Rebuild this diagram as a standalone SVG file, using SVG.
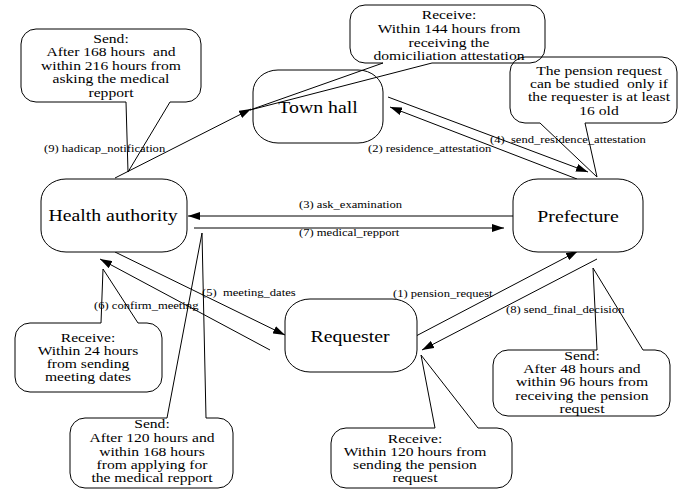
<svg xmlns="http://www.w3.org/2000/svg" width="678" height="490" viewBox="0 0 678 490">
<defs>
<marker id="ah" markerUnits="userSpaceOnUse" markerWidth="12" markerHeight="8" refX="12" refY="4" orient="auto">
<path d="M0,0 L12,4 L0,8 Z" fill="#000"/>
</marker>
<style>
.node{fill:#fff;stroke:#000;stroke-width:1}
.call{fill:none;stroke:#000;stroke-width:1}
.edge{fill:none;stroke:#000;stroke-width:1;marker-end:url(#ah)}
text{font-family:'Liberation Serif','Times New Roman',Times,'Tinos','Noto Serif','DejaVu Serif','FreeSerif',serif;fill:#000}
.nt{font-size:16.5px;text-anchor:middle}
.ct{font-size:13px;text-anchor:middle}
.lt{font-size:10.5px}
</style>
</defs>
<rect width="678" height="490" fill="#fff"/>

<g id="connectors">
<line class="edge" x1="115" y1="178" x2="251" y2="109"/>
<line class="edge" x1="513" y1="216" x2="188" y2="216"/>
<line class="edge" x1="194" y1="228" x2="504" y2="228"/>
<line class="edge" x1="388" y1="97" x2="588" y2="172"/>
<line class="edge" x1="577" y1="179" x2="390" y2="107"/>
<line class="edge" x1="115" y1="252" x2="285" y2="335"/>
<line class="edge" x1="270" y1="350" x2="100" y2="259"/>
<line class="edge" x1="416" y1="336" x2="578" y2="251"/>
<line class="edge" x1="597" y1="259" x2="422" y2="350"/>
<text class="lt" transform="translate(44,0) scale(1.2,1)" x="0" y="152">(9) hadicap_notification</text>
<text class="lt" transform="translate(368,0) scale(1.2,1)" x="0" y="152">(2) residence_attestation</text>
<text class="lt" transform="translate(490,0) scale(1.2,1)" x="0" y="143" xml:space="preserve">(4)  send_residence_attestation</text>
<text class="lt" transform="translate(299,0) scale(1.2,1)" x="0" y="208">(3) ask_examination</text>
<text class="lt" transform="translate(299,0) scale(1.2,1)" x="0" y="236">(7) medical_repport</text>
<text class="lt" transform="translate(202,0) scale(1.2,1)" x="0" y="296" xml:space="preserve">(5)  meeting_dates</text>
<text class="lt" transform="translate(94,0) scale(1.2,1)" x="0" y="309">(6) confirm_meeting</text>
<text class="lt" transform="translate(393,0) scale(1.2,1)" x="0" y="297">(1) pension_request</text>
<text class="lt" transform="translate(506,0) scale(1.2,1)" x="0" y="313">(8) send_final_decision</text>
</g>

<g id="town-hall">
<rect class="node" x="253" y="70" width="130" height="73" rx="25" ry="22"/>
<text class="nt" transform="translate(318,0) scale(1.2,1)" x="0" y="113">Town hall</text>
</g>
<g id="health-authority">
<rect class="node" x="41" y="179" width="146" height="73" rx="25" ry="22"/>
<text class="nt" transform="translate(113,0) scale(1.2,1)" x="0" y="221">Health authority</text>
</g>
<g id="prefecture">
<rect class="node" x="513" y="179" width="130" height="73" rx="25" ry="22"/>
<text class="nt" transform="translate(578,0) scale(1.2,1)" x="0" y="222">Prefecture</text>
</g>
<g id="requester">
<rect class="node" x="285" y="299" width="132" height="73" rx="25" ry="22"/>
<text class="nt" transform="translate(350,0) scale(1.2,1)" x="0" y="342">Requester</text>
</g>

<g id="note-send-hadicap">
<path class="call" d="M36,29 H186 A15,15 0 0 1 201,44 V87 A15,15 0 0 1 186,102 H170 L128,172 L126,102 H36 A15,15 0 0 1 21,87 V44 A15,15 0 0 1 36,29 Z"/>
<text class="ct" transform="translate(111,0) scale(1.2,1)"><tspan x="0" y="43">Send:</tspan><tspan x="0" y="56" xml:space="preserve">After 168 hours  and</tspan><tspan x="0" y="70">within 216 hours from</tspan><tspan x="0" y="83">asking the medical</tspan><tspan x="0" y="97">repport</tspan></text>
</g>
<g id="note-receive-domiciliation">
<path class="call" d="M365,5 H530 A15,15 0 0 1 545,20 V48 A15,15 0 0 1 530,63 H432 L250,110 L383,63 H365 A15,15 0 0 1 350,48 V20 A15,15 0 0 1 365,5 Z"/>
<text class="ct" transform="translate(449,0) scale(1.2,1)"><tspan x="0" y="19">Receive:</tspan><tspan x="0" y="33">Within 144 hours from</tspan><tspan x="0" y="47">receiving the</tspan><tspan x="0" y="60">domiciliation attestation</tspan></text>
</g>
<g id="note-pension-age">
<path class="call" d="M525,57 H662 A15,15 0 0 1 677,72 V108 A15,15 0 0 1 662,123 H585 L597,177 L540,123 H525 A15,15 0 0 1 510,108 V72 A15,15 0 0 1 525,57 Z"/>
<text class="ct" transform="translate(599,0) scale(1.2,1)"><tspan x="0" y="75">The pension request</tspan><tspan x="0" y="88" xml:space="preserve">can be studied  only if</tspan><tspan x="0" y="101">the requester is at least</tspan><tspan x="0" y="115">16 old</tspan></text>
</g>
<g id="note-receive-confirm">
<path class="call" d="M30,323 H101 L103,269 L138,323 H147 A15,15 0 0 1 162,338 V377 A15,15 0 0 1 147,392 H30 A15,15 0 0 1 15,377 V338 A15,15 0 0 1 30,323 Z"/>
<text class="ct" transform="translate(88,0) scale(1.2,1)"><tspan x="0" y="342">Receive:</tspan><tspan x="0" y="355">Within 24 hours</tspan><tspan x="0" y="368">from sending</tspan><tspan x="0" y="381">meeting dates</tspan></text>
</g>
<g id="note-send-medical">
<path class="call" d="M85,418 H167 L202,233 L206,418 H218 A15,15 0 0 1 233,433 V473 A15,15 0 0 1 218,488 H85 A15,15 0 0 1 70,473 V433 A15,15 0 0 1 85,418 Z"/>
<text class="ct" transform="translate(152,0) scale(1.2,1)"><tspan x="0" y="428">Send:</tspan><tspan x="0" y="442">After 120 hours and</tspan><tspan x="0" y="456">within 168 hours</tspan><tspan x="0" y="469">from applying for</tspan><tspan x="0" y="482">the medical repport</tspan></text>
</g>
<g id="note-send-decision">
<path class="call" d="M508,350 H597 L593,268 L643,350 H655 A15,15 0 0 1 670,365 V401 A15,15 0 0 1 655,416 H508 A15,15 0 0 1 493,401 V365 A15,15 0 0 1 508,350 Z"/>
<text class="ct" transform="translate(582,0) scale(1.2,1)"><tspan x="0" y="360">Send:</tspan><tspan x="0" y="373">After 48 hours and</tspan><tspan x="0" y="386">within 96 hours from</tspan><tspan x="0" y="400">receiving the pension</tspan><tspan x="0" y="413">request</tspan></text>
</g>
<g id="note-receive-pension">
<path class="call" d="M346,428 H435 L421,355 L478,428 H497 A15,15 0 0 1 512,443 V473 A15,15 0 0 1 497,488 H346 A15,15 0 0 1 331,473 V443 A15,15 0 0 1 346,428 Z"/>
<text class="ct" transform="translate(415,0) scale(1.2,1)"><tspan x="0" y="443">Receive:</tspan><tspan x="0" y="456">Within 120 hours from</tspan><tspan x="0" y="469">sending the pension</tspan><tspan x="0" y="482">request</tspan></text>
</g>
</svg>
